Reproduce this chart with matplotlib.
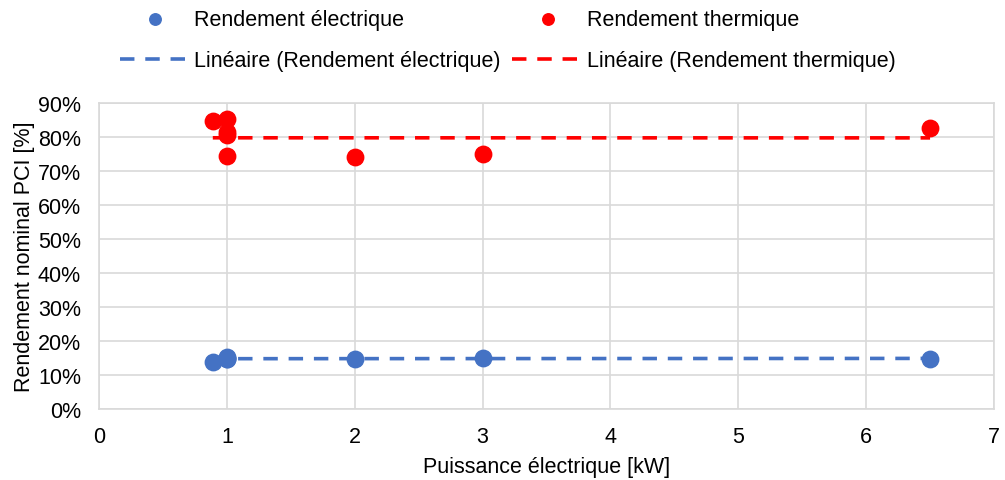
import numpy as np
import matplotlib
matplotlib.use("Agg")
import matplotlib.pyplot as plt

plt.rcParams['font.family'] = ['Liberation Sans', 'DejaVu Sans']

# puissance électrique [kW]
puissance = [0.89, 1.0, 1.0, 1.0, 1.0, 2.0, 3.0, 6.5]
# rendements [%]
rend_elec = [13.9, 15.4, 15.0, 14.8, 14.8, 14.8, 15.0, 14.8]
rend_therm = [84.7, 85.3, 81.5, 80.5, 74.4, 74.1, 75.0, 82.6]

blue = '#4472C4'
red = '#FF0000'
fs = 15.5

fig = plt.figure(figsize=(10.05, 4.81), dpi=100)
ax = fig.add_axes([99 / 1005, 71 / 481, 895 / 1005, 306 / 481])

x = np.array(puissance)
xs = np.array([x.min(), x.max()])

h1 = ax.scatter(puissance, rend_elec, s=140, color=blue, zorder=3,
                label='Rendement électrique')
h3 = ax.scatter(puissance, rend_therm, s=140, color=red, zorder=3,
                label='Rendement thermique')

# courbes de tendance linéaires
pe = np.polyfit(x, rend_elec, 1)
pt = np.polyfit(x, rend_therm, 1)
h2, = ax.plot(xs, np.polyval(pe, xs), color=blue, lw=2.6, dashes=(4, 3),
              zorder=2, label='Linéaire (Rendement électrique)')
h4, = ax.plot(xs, np.polyval(pt, xs), color=red, lw=2.6, dashes=(4, 3),
              zorder=2, label='Linéaire (Rendement thermique)')

ax.set_xlim(0, 7)
ax.set_ylim(0, 90)
ax.set_xticks(range(0, 8))
ax.set_yticks(range(0, 91, 10))
ax.set_yticklabels([f'{v}%' for v in range(0, 91, 10)])
ax.grid(True, color='#D9D9D9', lw=1.2)
ax.set_axisbelow(True)
for s in ax.spines.values():
    s.set_color('#D9D9D9')
    s.set_linewidth(1.2)
ax.tick_params(length=0, labelsize=fs, colors='#000000')
ax.tick_params(axis='x', pad=12)
ax.tick_params(axis='y', pad=13)
ax.set_xlabel('Puissance électrique [kW]', fontsize=fs, labelpad=7)
ax.set_ylabel('Rendement nominal PCI [%]', fontsize=fs, labelpad=2)

fig.legend(handles=[h1, h2, h3, h4], ncol=2, loc='upper center',
           bbox_to_anchor=(0.505, 1.02), frameon=False, fontsize=fs,
           handlelength=3.3, columnspacing=0.55, handletextpad=0.15,
           labelspacing=0.95, markerscale=0.7)

fig.savefig('out.png', dpi=100)
